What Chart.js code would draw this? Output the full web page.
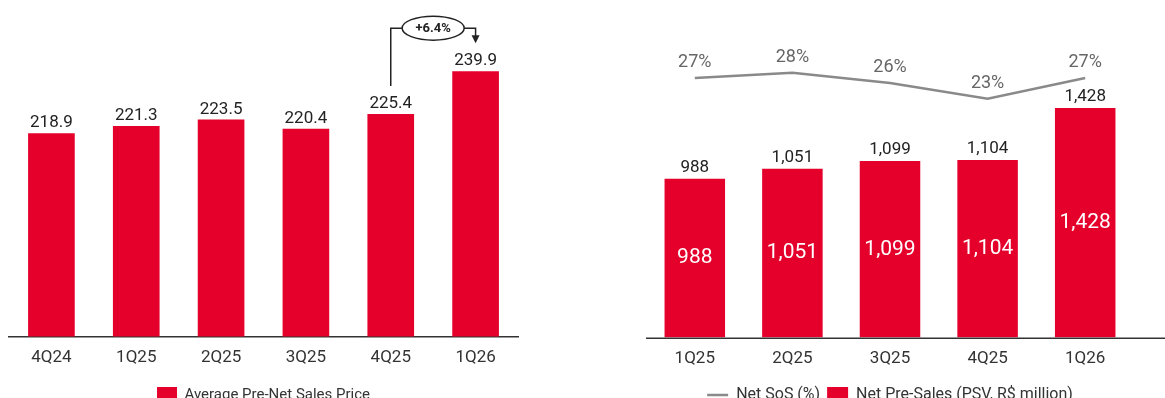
<!DOCTYPE html>
<html>
<head>
<meta charset="utf-8">
<script src="https://cdn.jsdelivr.net/npm/chart.js@4.4.1/dist/chart.umd.min.js"></script>
<style>
  html, body { margin: 0; padding: 0; background: #fff; overflow: hidden; width: 1165px; height: 398px; }
  #left { position: absolute; left: 0; top: 0; width: 540px; height: 414px; }
  #right { position: absolute; left: 600px; top: 0; width: 565px; height: 413px; }
</style>
</head>
<body>
<div id="left"><canvas id="priceChart"></canvas></div>
<div id="right"><canvas id="salesChart"></canvas></div>
<script>
// left chart
const priceQuarters = ['4Q24', '1Q25', '2Q25', '3Q25', '4Q25', '1Q26'];
const priceValues = [218.9, 221.3, 223.5, 220.4, 225.4, 239.9];
const growthLabel = '+6.4%';

// right chart
const salesQuarters = ['1Q25', '2Q25', '3Q25', '4Q25', '1Q26'];
const netPreSales = [988, 1051, 1099, 1104, 1428];
const netSoS = [27, 28, 26, 23, 27];

const RED = '#e4002b';
const GREY = '#8a8a8a';
const FONT = 'Roboto';

const fmt = v => v.toLocaleString('en-US');

// value labels above the left bars + the growth callout
const priceLabels = {
  id: 'priceLabels',
  afterDatasetsDraw(chart) {
    const ctx = chart.ctx;
    const meta = chart.getDatasetMeta(0);
    ctx.save();
    ctx.fillStyle = '#222';
    ctx.font = '17px ' + FONT;
    ctx.textAlign = 'center';
    ctx.textBaseline = 'alphabetic';
    meta.data.forEach((bar, i) => {
      ctx.fillText(priceValues[i].toFixed(1), bar.x, bar.y - 6);
    });

    // callout from 4Q25 to 1Q26
    const a = meta.data[4], b = meta.data[5];
    const yTop = b.y - 43;
    const cx = (a.x + b.x) / 2, rx = 31, ry = 12;
    ctx.strokeStyle = '#222';
    ctx.lineWidth = 1.5;
    ctx.beginPath();
    ctx.moveTo(a.x, a.y - 28);
    ctx.lineTo(a.x, yTop);
    ctx.lineTo(cx - rx, yTop);
    ctx.moveTo(cx + rx, yTop);
    ctx.lineTo(b.x, yTop);
    ctx.lineTo(b.x, b.y - 35);
    ctx.stroke();
    ctx.beginPath();
    ctx.ellipse(cx, yTop, rx, ry, 0, 0, Math.PI * 2);
    ctx.stroke();
    ctx.fillStyle = '#222';
    ctx.beginPath();
    ctx.moveTo(b.x - 4, b.y - 36);
    ctx.lineTo(b.x + 4, b.y - 36);
    ctx.lineTo(b.x, b.y - 28);
    ctx.closePath();
    ctx.fill();
    ctx.font = 'bold 13px ' + FONT;
    ctx.textBaseline = 'middle';
    ctx.fillText(growthLabel, cx, yTop + 1);
    ctx.restore();
  }
};

// labels for the right chart + axis line to the edge
const salesLabels = {
  id: 'salesLabels',
  afterDatasetsDraw(chart) {
    const ctx = chart.ctx;
    const bars = chart.getDatasetMeta(1).data;
    const pts = chart.getDatasetMeta(0).data;
    const area = chart.chartArea;
    ctx.save();
    ctx.strokeStyle = '#333';
    ctx.lineWidth = 1.5;
    ctx.beginPath();
    ctx.moveTo(area.left, area.bottom + 0.75);
    ctx.lineTo(chart.width, area.bottom + 0.75);
    ctx.stroke();

    ctx.textAlign = 'center';
    bars.forEach((bar, i) => {
      ctx.textBaseline = 'alphabetic';
      ctx.fillStyle = '#222';
      ctx.font = '17px ' + FONT;
      ctx.fillText(fmt(netPreSales[i]), bar.x, bar.y - 7);
      ctx.textBaseline = 'middle';
      ctx.fillStyle = '#fff';
      ctx.font = '21px ' + FONT;
      ctx.fillText(fmt(netPreSales[i]), bar.x, (bar.y + bar.base) / 2);
    });
    ctx.textBaseline = 'alphabetic';
    ctx.fillStyle = '#666';
    ctx.font = '18px ' + FONT;
    pts.forEach((p, i) => {
      ctx.fillText(netSoS[i] + '%', p.x, p.y - 11);
    });
    ctx.restore();
  }
};

new Chart(document.getElementById('priceChart'), {
  type: 'bar',
  data: {
    labels: priceQuarters,
    datasets: [{
      label: 'Average Pre-Net Sales Price',
      data: priceValues,
      backgroundColor: RED,
      barPercentage: 0.55,
      categoryPercentage: 1
    }]
  },
  options: {
    responsive: true,
    maintainAspectRatio: false,
    animation: false,
    layout: { padding: { left: 9, right: 22, top: 0, bottom: 0 } },
    plugins: {
      legend: {
        position: 'bottom',
        labels: { boxWidth: 20, boxHeight: 17, color: '#333', font: { family: FONT, size: 15 }, padding: 8 }
      },
      tooltip: { enabled: false }
    },
    scales: {
      x: {
        grid: { display: false, drawTicks: false },
        border: { color: '#333', width: 1.5 },
        ticks: { color: '#333', font: { family: FONT, size: 17 }, padding: 11 }
      },
      y: { display: false, min: 150, max: 264 }
    }
  },
  plugins: [priceLabels]
});

new Chart(document.getElementById('salesChart'), {
  data: {
    labels: salesQuarters,
    datasets: [
      {
        type: 'line',
        label: 'Net SoS (%)',
        data: netSoS,
        yAxisID: 'y2',
        borderColor: GREY,
        backgroundColor: GREY,
        borderWidth: 2.5,
        pointRadius: 0,
        tension: 0,
        order: 0
      },
      {
        type: 'bar',
        label: 'Net Pre-Sales (PSV, R$ million)',
        data: netPreSales,
        backgroundColor: RED,
        barPercentage: 0.62,
        categoryPercentage: 1,
        order: 1
      }
    ]
  },
  options: {
    responsive: true,
    maintainAspectRatio: false,
    animation: false,
    layout: { padding: { left: 46, right: 31, top: 0, bottom: 0 } },
    plugins: {
      legend: {
        position: 'bottom',
        labels: {
          usePointStyle: true,
          pointStyleWidth: 21,
          boxHeight: 16,
          color: '#333',
          font: { family: FONT, size: 16 },
          padding: 7,
          generateLabels(chart) {
            const items = Chart.defaults.plugins.legend.labels.generateLabels(chart);
            items.forEach(it => {
              it.pointStyle = it.datasetIndex === 0 ? 'line' : 'rect';
              if (it.datasetIndex === 1) it.lineWidth = 0;
            });
            return items;
          }
        }
      },
      tooltip: { enabled: false }
    },
    scales: {
      x: {
        grid: { display: false, drawTicks: false },
        border: { display: false },
        ticks: { color: '#333', font: { family: FONT, size: 17 }, padding: 11 }
      },
      y: { display: false, min: 0, max: 2100 },
      y2: { display: false, min: -23, max: 42 }
    }
  },
  plugins: [salesLabels]
});
</script>
</body>
</html>
